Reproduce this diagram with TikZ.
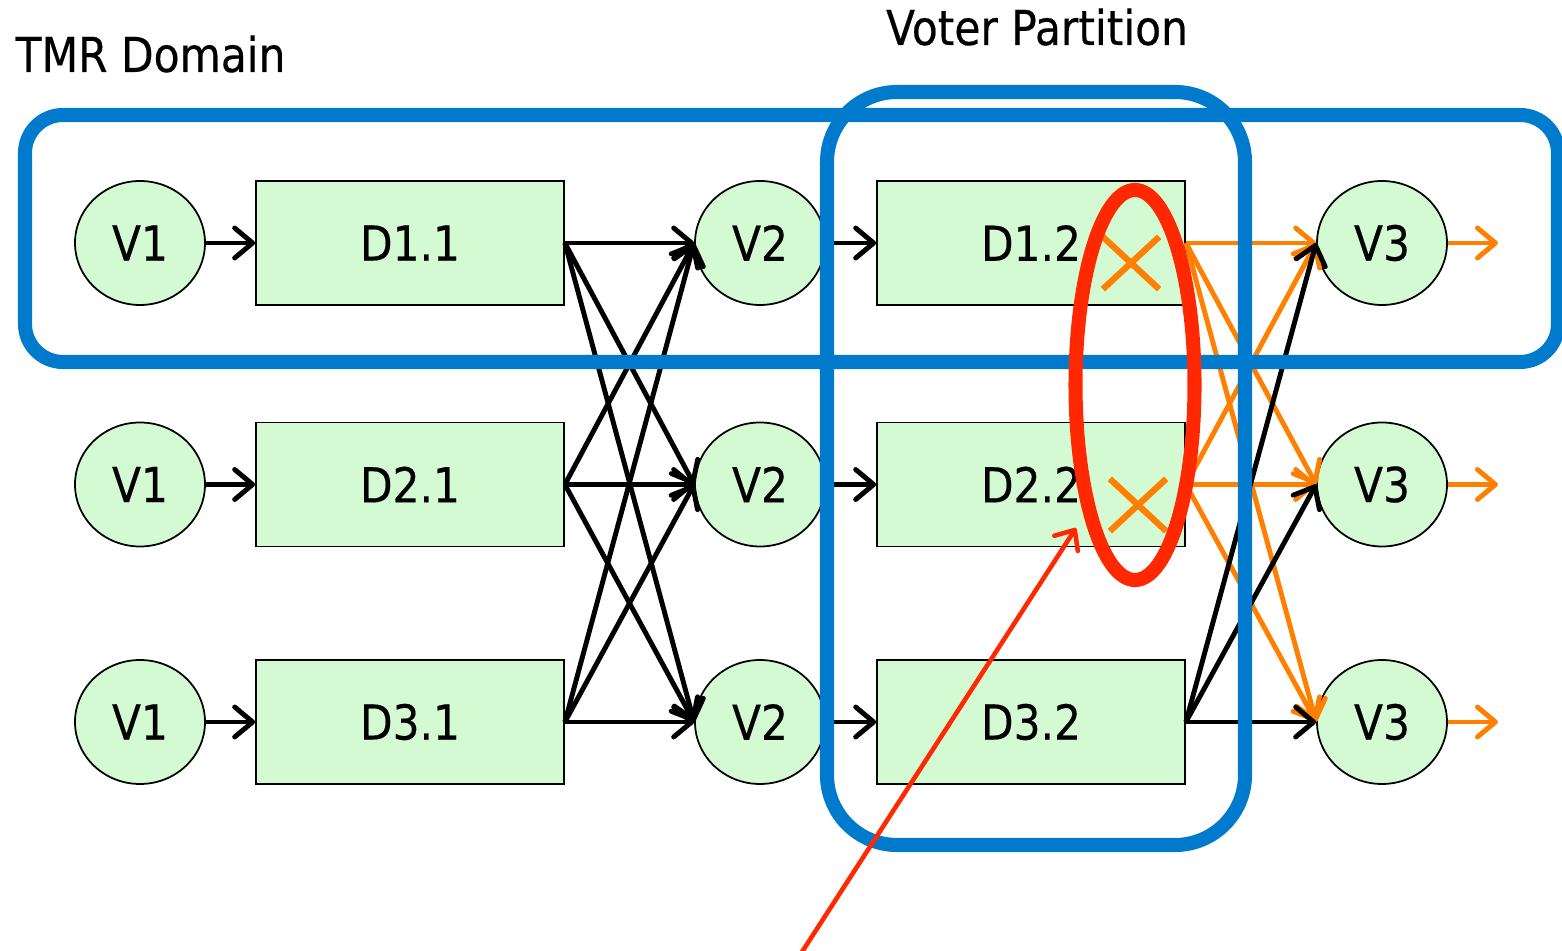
\documentclass[tikz,border=0pt]{standalone}
\usepackage{fontspec}
\setmainfont[FakeStretch=0.88,FakeBold=0.4]{DejaVu Sans}
\usetikzlibrary{arrows.meta,shapes.geometric,shapes.misc}

\definecolor{nodegreen}{RGB}{212,250,212}
\definecolor{partblue}{RGB}{0,122,204}
\definecolor{faultred}{RGB}{255,40,0}
\definecolor{wireorange}{RGB}{255,128,0}

\tikzset{
  voter/.style={ellipse, draw, line width=0.5pt, fill=nodegreen,
    minimum width=1.30cm, minimum height=1.24cm, inner sep=0pt},
  design/.style={rectangle, draw, line width=0.5pt, fill=nodegreen,
    minimum width=3.08cm, minimum height=1.24cm, inner sep=0pt},
  wire/.style={line width=1.4pt, -{Straight Barb[length=1.8mm,width=3mm,round]}},
  region/.style={draw=partblue, line width=4pt},
  errmark/.style={cross out, draw=wireorange, line width=1.8pt,
    minimum width=0.5cm, minimum height=0.46cm, inner sep=0pt},
}

\begin{document}
\begin{tikzpicture}[font=\fontsize{13.7}{16}\selectfont]
\useasboundingbox (0,0) rectangle (15.62,-9.51);

% Three replicas, one row each
\foreach \r/\y in {1/-2.43, 2/-4.845, 3/-7.22} {
  \node[voter] (vA\r) at (1.40,\y) {V1};
  \node[design] (dA\r) at (4.10,\y) {D\r.1};
  \node[voter] (vB\r) at (7.60,\y) {V2};
  \node[design] (dB\r) at (10.31,\y) {D\r.2};
  \node[voter] (vC\r) at (13.82,\y) {V3};
}

% Voter into its block
\foreach \r in {1,2,3} {
  \draw[wire] (vA\r) -- (dA\r);
  \draw[wire] (vB\r) -- (dB\r);
}

% Every first block feeds every V2
\foreach \s in {1,2,3}
  \foreach \t in {1,2,3}
    \draw[wire] (dA\s.east) -- (vB\t.west);

% Second blocks into V3, upper two carry the error
\foreach \s/\c in {1/wireorange,2/wireorange,3/black}
  \foreach \t in {1,2,3}
    \draw[wire, color=\c] (dB\s.east) -- (vC\t.west);

% Outputs of V3
\foreach \r in {1,2,3} {
  \path (vC\r.east) ++(0.5,0) coordinate (out\r);
  \draw[wire, wireorange] (vC\r) -- (out\r);
}

% Failed outputs
\node[errmark] (err1) at (11.31,-2.63) {};
\node[errmark] (err2) at (11.38,-5.05) {};

% TMR domain and voter partition
\draw[region, rounded corners=0.38cm] (0.25,-1.15) rectangle (15.58,-3.62);
\draw[region, rounded corners=0.7cm] (8.27,-0.92) rectangle (12.45,-8.45);

\node[anchor=base west, inner sep=0pt] (tmrlabel) at (0.15,-0.72) {TMR Domain};
\node[anchor=base, inner sep=0pt] (voterlabel) at (10.37,-0.45) {Voter Partition};

% Faulty pair
\node[ellipse, draw=faultred, line width=4pt, minimum width=1.19cm,
  minimum height=3.90cm, inner sep=0pt] (fault) at (11.35,-3.85) {};

\coordinate (pointer) at (8.00,-9.55);
\coordinate (hit) at (10.76,-5.28);
\draw[faultred, line width=1.3pt, -{Straight Barb[length=1.6mm,width=2.8mm,round]}]
  (pointer) -- (hit);

\end{tikzpicture}
\end{document}
